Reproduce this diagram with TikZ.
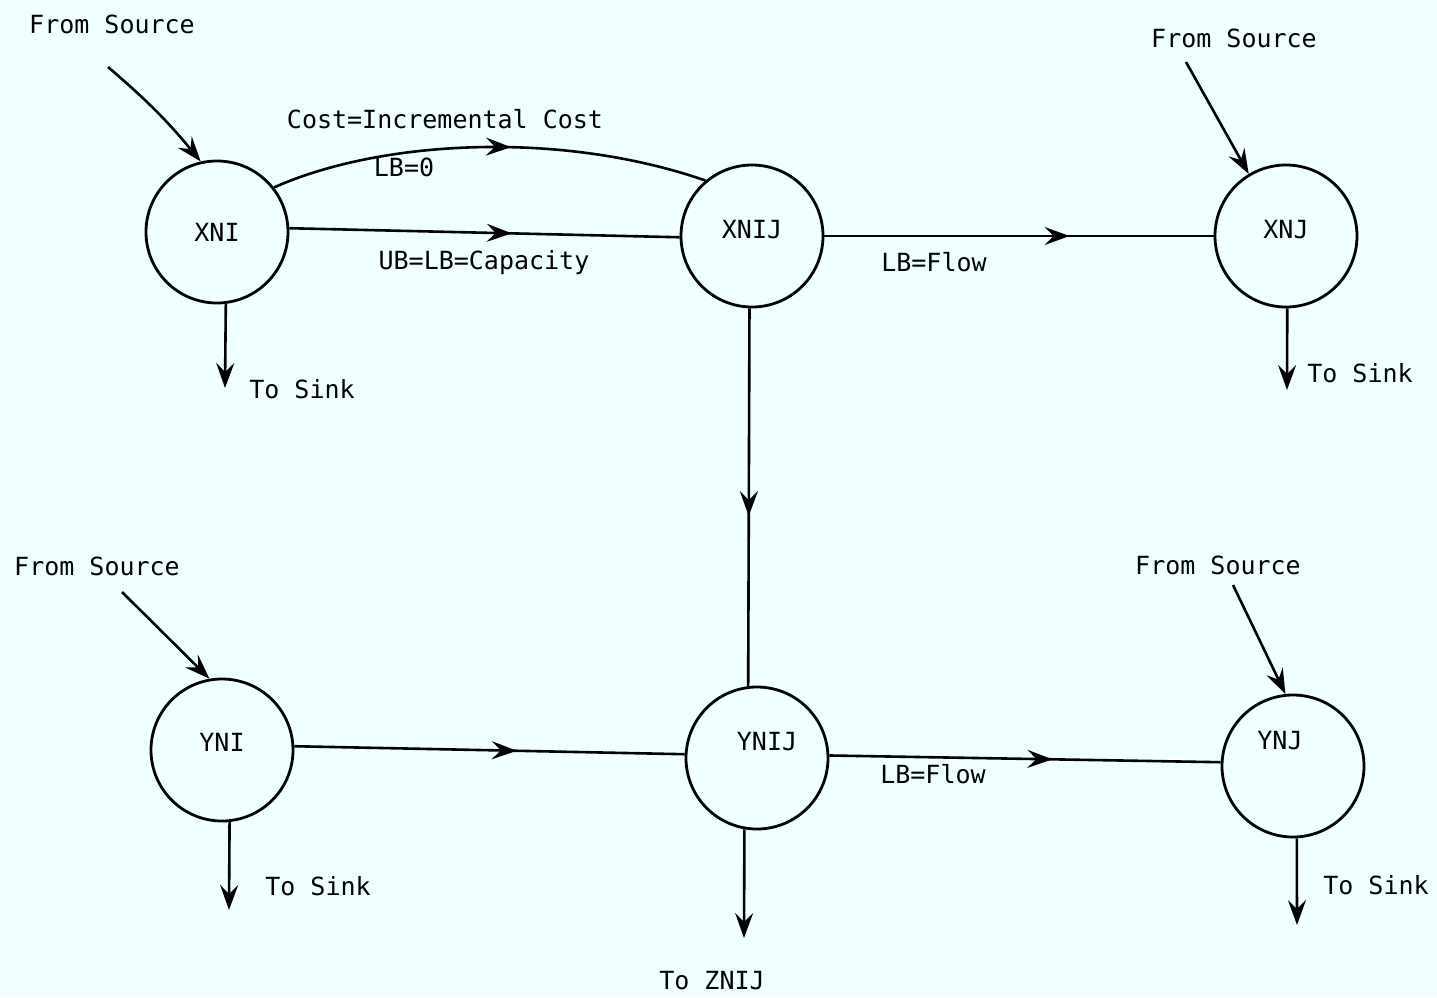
\documentclass[tikz,border=0pt]{standalone}
\usepackage{fontspec}
\setmainfont{DejaVu Sans Mono}
\usetikzlibrary{arrows.meta,decorations.markings}
\definecolor{paper}{RGB}{240,255,255}
\begin{document}
\begin{tikzpicture}[x=1pt,y=-1pt,
  every node/.style={font=\fontsize{25}{30}\selectfont},
  bubble/.style={draw, circle, line width=2.8pt, minimum size=142pt, inner sep=0pt},
  wire/.style={line width=2.6pt},
  tip/.style={-{Stealth[length=25pt,width=18pt,inset=9pt]}},
  midarrow/.style={postaction=decorate, decoration={markings,
      mark=at position #1 with {\arrow{Stealth[length=25pt,width=18pt,inset=9pt]}}}}
]
\useasboundingbox[fill=paper] (0,0) rectangle (1437,997);

% network nodes
\node[bubble, label={[yshift=0pt]center:XNI}] (xni) at (217,232) {};
\node[bubble, label={[yshift=6pt]center:XNIJ}] (xnij) at (752,236) {};
\node[bubble, label={[yshift=6pt]center:XNJ}] (xnj) at (1286,236) {};
\node[bubble, label={[yshift=8pt]center:YNI}] (yni) at (222,750) {};
\node[bubble, label={[yshift=16pt,xshift=10pt]center:YNIJ}] (ynij) at (757,758) {};
\node[bubble, label={[yshift=25pt,xshift=-13pt]center:YNJ}] (ynj) at (1293,766) {};

% source and sink ends
\coordinate (srcA) at (108,67);
\coordinate (srcB) at (1186,62);
\coordinate (srcC) at (122,592);
\coordinate (srcD) at (1233,585);
\coordinate (sinkA) at (225,388);
\coordinate (sinkB) at (1287,390);
\coordinate (sinkC) at (229,910);
\coordinate (sinkD) at (1297,925);
\coordinate (toz) at (744,938);

% labels
\node (fsA) at (112,24) {From Source};
\node (fsB) at (1234,38) {From Source};
\node (fsC) at (97,566) {From Source};
\node (fsD) at (1218,565) {From Source};
\node (tsA) at (302,389) {To Sink};
\node (tsB) at (1360,373) {To Sink};
\node (tsC) at (318,886) {To Sink};
\node (tsD) at (1376,885) {To Sink};
\node (tz) at (712,981) {To ZNIJ};
\node (cost) at (445,119) {Cost=Incremental Cost};
\node (lb0) at (404,167) {LB=0};
\node (cap) at (484,263) {UB=LB=Capacity};
\node (flowX) at (934,262) {LB=Flow};
\node (flowY) at (933,774) {LB=Flow};

% supply arcs
\draw[wire, tip] (srcA) to[bend left=5] (xni.103);
\draw[wire, tip] (srcB) -- (xnj.121);
\draw[wire, tip] (srcC) -- (yni.100);
\draw[wire, tip] (srcD) -- (ynj.96);

% demand arcs
\draw[wire, tip] (xni.-83) -- (sinkA);
\draw[wire, tip] (xnj.-89) -- (sinkB);
\draw[wire, tip] (yni.-84) -- (sinkC);
\draw[wire, tip] (ynj.-87) -- (sinkD);
\draw[wire, tip] (ynij.-100) -- (toz);

% flow arcs
\draw[wire, midarrow=0.55] (xni.38) .. controls (380,140) and (560,130) .. (xnij.130);
\draw[wire, midarrow=0.57] (xni.3) -- (xnij.181);
\draw[wire, midarrow=0.63] (xnij.east) -- (xnj.west);
\draw[wire, midarrow=0.55] (xnij.-92) -- (ynij.97);
\draw[wire, midarrow=0.57] (yni.3) -- (ynij.177);
\draw[wire, midarrow=0.57] (ynij.2) -- (ynj.177);
\end{tikzpicture}
\end{document}
